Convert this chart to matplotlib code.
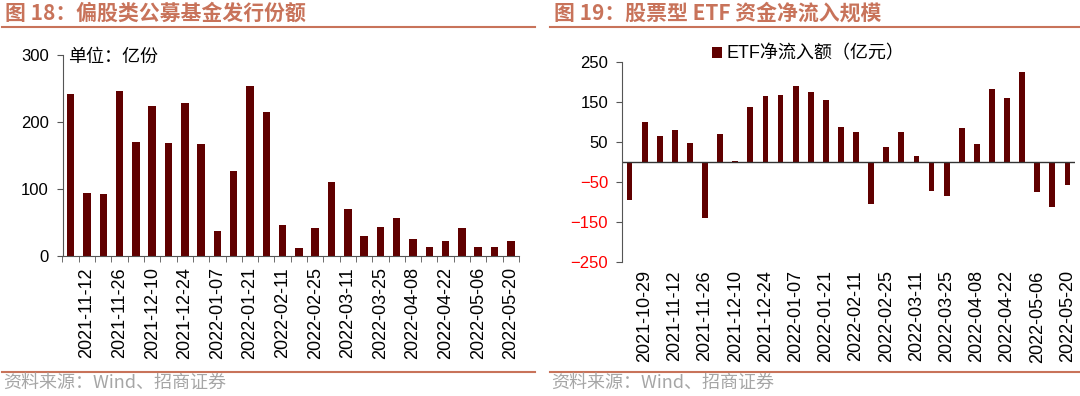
import matplotlib
matplotlib.use("Agg")
import matplotlib.pyplot as plt
from matplotlib.lines import Line2D
import numpy as np

plt.rcParams['font.family'] = ['Liberation Sans', 'Noto Sans CJK SC', 'DejaVu Sans']

# 图18 数据: 偏股类公募基金发行份额 (亿份), 周度
left_dates = ['2021-11-05', '2021-11-12', '2021-11-19', '2021-11-26', '2021-12-03', '2021-12-10',
              '2021-12-17', '2021-12-24', '2021-12-31', '2022-01-07', '2022-01-14', '2022-01-21',
              '2022-01-28', '2022-02-11', '2022-02-18', '2022-02-25', '2022-03-04', '2022-03-11',
              '2022-03-18', '2022-03-25', '2022-04-01', '2022-04-08', '2022-04-15', '2022-04-22',
              '2022-04-29', '2022-05-06', '2022-05-13', '2022-05-20']
left_vals = [242, 94, 93, 246, 170, 224, 168, 229, 167, 37, 127, 254, 215, 47,
             12, 42, 111, 70, 30, 43, 57, 25, 13, 22, 42, 14, 13, 23]

# 图19 数据: ETF净流入额 (亿元)
right_dates = ['2021-10-22', '2021-10-29', '2021-11-05', '2021-11-12', '2021-11-19', '2021-11-26',
               '2021-12-03', '2021-12-10', '2021-12-17', '2021-12-24', '2021-12-31', '2022-01-07',
               '2022-01-14', '2022-01-21', '2022-01-28', '2022-02-11', '2022-02-18', '2022-02-25',
               '2022-03-04', '2022-03-11', '2022-03-18', '2022-03-25', '2022-04-01', '2022-04-08',
               '2022-04-15', '2022-04-22', '2022-04-29', '2022-05-06', '2022-05-13', '2022-05-20']
right_vals = [-95, 100, 64, 81, 47, -139, 71, 3, 137, 166, 168, 189, 174, 154, 87,
              74, -105, 37, 76, 14, -73, -84, 84, 45, 182, 160, 224, -75, -113, -57]
right_yticks = [250, 150, 50, -50, -150, -250]

bar_color = '#600000'
accent = '#C8735A'
spine_c = '#555555'

fig = plt.figure(figsize=(10.8, 3.96), dpi=100)

# 标题与分隔线
fig.text(5 / 1080, 1 - 13 / 396, '图 18：偏股类公募基金发行份额', fontsize=15, fontweight='bold',
         color=accent, va='center', ha='left', family=['Noto Sans CJK SC'])
fig.text(554 / 1080, 1 - 13 / 396, '图 19：股票型 ETF 资金净流入规模', fontsize=15, fontweight='bold',
         color=accent, va='center', ha='left', family=['Noto Sans CJK SC'])
for x0, x1 in [(2, 535), (550, 1080)]:
    fig.add_artist(Line2D([x0 / 1080, x1 / 1080], [1 - 27 / 396] * 2, color=accent, lw=1.5))
    fig.add_artist(Line2D([x0 / 1080, x1 / 1080], [1 - 372 / 396] * 2, color=accent, lw=1.5))
for x0 in [3, 551]:
    fig.text(x0 / 1080, 1 - 383 / 396, '资料来源：Wind、招商证券', fontsize=13, color='#A6A6A6',
             va='center', ha='left', family=['Noto Sans CJK SC'])

# 左图
ax1 = fig.add_axes([62.5 / 1080, 1 - 256 / 396, 456.5 / 1080, 201 / 396])
x1 = np.arange(len(left_vals))
ax1.bar(x1, left_vals, width=0.46, color=bar_color)
ax1.set_xlim(-0.5, len(left_vals) - 0.5)
ax1.set_ylim(0, 300)
ax1.set_yticks([0, 100, 200, 300])
ax1.set_xticks(x1[1::2])
ax1.set_xticklabels(left_dates[1::2], rotation=90, fontsize=13)
ax1.set_xticks(np.arange(-0.5, len(left_vals), 1), minor=True)
ax1.tick_params(axis='x', which='major', length=0, pad=8)
ax1.tick_params(axis='x', which='minor', length=4, color=spine_c, direction='out')
ax1.tick_params(axis='y', length=4, color=spine_c, labelsize=12, pad=6)
for s in ['top', 'right']:
    ax1.spines[s].set_visible(False)
for s in ['left', 'bottom']:
    ax1.spines[s].set_color(spine_c)
ax1.text(0.012, 0.99, '单位：亿份', transform=ax1.transAxes, fontsize=13, va='center', ha='left',
         family=['Noto Sans CJK SC'])

# 右图
ax2 = fig.add_axes([622 / 1080, 1 - 262 / 396, 453 / 1080, 200 / 396])
x2 = np.arange(len(right_vals))
ax2.bar(x2, right_vals, width=0.38, color=bar_color, label='ETF净流入额（亿元）')
ax2.axhline(0, color='#333333', lw=1)
ax2.set_xlim(-0.5, len(right_vals) - 0.5)
ax2.set_ylim(-250, 250)
ax2.set_yticks(right_yticks)
ax2.set_xticks(x2[1::2])
ax2.set_xticklabels(right_dates[1::2], rotation=90, fontsize=13)
ax2.tick_params(axis='x', length=0, pad=6)
ax2.tick_params(axis='y', length=4, color=spine_c, labelsize=12, pad=6)
for lab, v in zip(ax2.get_yticklabels(), right_yticks):
    lab.set_color('red' if v < 0 else 'black')
for s in ['top', 'right', 'bottom']:
    ax2.spines[s].set_visible(False)
ax2.spines['left'].set_color(spine_c)
ax2.legend(loc='center', bbox_to_anchor=(0.41, 1.04), frameon=False, fontsize=13,
           handlelength=0.6, handleheight=0.6, handletextpad=0.2, borderpad=0, borderaxespad=0)

fig.savefig('out.png', dpi=100)
